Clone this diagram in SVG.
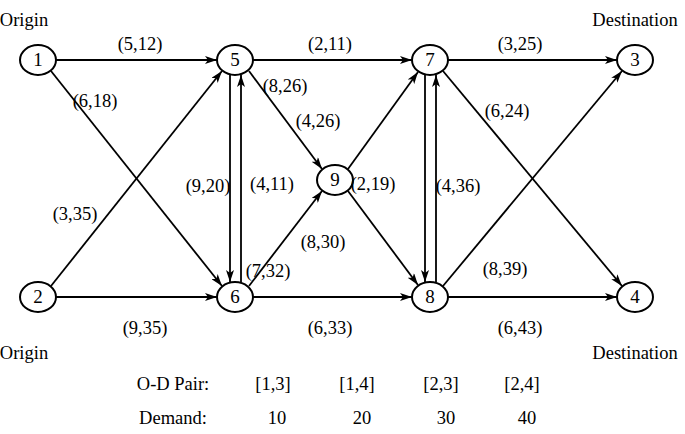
<svg xmlns="http://www.w3.org/2000/svg" width="685" height="434" viewBox="0 0 685 434">
<style>
text{font-family:"Liberation Serif","Times New Roman",serif;font-size:18.5px;fill:#000}
.n ellipse{fill:#fff;stroke:#000;stroke-width:2}
.n text{text-anchor:middle;font-size:19px}
.c line{stroke:#000;stroke-width:1.8;marker-end:url(#a)}
.m{text-anchor:middle}
</style>
<defs><marker id="a" viewBox="0 0 12 8" refX="12" refY="4" markerWidth="12" markerHeight="8" markerUnits="userSpaceOnUse" orient="auto"><path d="M0,0L12,4L0,8L3,4z" fill="#000"/></marker></defs>
<rect width="685" height="434" fill="#fff"/>
<g class="c">
<line x1="56" y1="60" x2="217" y2="60"/>
<line x1="51" y1="71" x2="222" y2="286"/>
<line x1="51" y1="286" x2="222" y2="71"/>
<line x1="56" y1="297" x2="217" y2="297"/>
<line x1="253" y1="60" x2="412" y2="60"/>
<line x1="249" y1="71" x2="322" y2="169"/>
<line x1="230" y1="75" x2="230" y2="282"/>
<line x1="241" y1="282" x2="241" y2="75"/>
<line x1="249" y1="286" x2="322" y2="191"/>
<line x1="253" y1="297" x2="412" y2="297"/>
<line x1="348" y1="169" x2="418" y2="72"/>
<line x1="348" y1="191" x2="418" y2="285"/>
<line x1="448" y1="60" x2="617" y2="60"/>
<line x1="443" y1="71" x2="622" y2="286"/>
<line x1="443" y1="286" x2="622" y2="71"/>
<line x1="448" y1="297" x2="617" y2="297"/>
<line x1="425" y1="75" x2="425" y2="282"/>
<line x1="436" y1="282" x2="436" y2="75"/>
</g>
<g id="n1" class="n"><ellipse cx="38" cy="60" rx="18" ry="15"/><text x="38" y="66">1</text></g>
<g id="n5" class="n"><ellipse cx="235" cy="60" rx="18" ry="15"/><text x="235" y="66">5</text></g>
<g id="n7" class="n"><ellipse cx="430" cy="60" rx="18" ry="15"/><text x="430" y="66">7</text></g>
<g id="n3" class="n"><ellipse cx="635" cy="60" rx="18" ry="15"/><text x="635" y="66">3</text></g>
<g id="n2" class="n"><ellipse cx="38" cy="297" rx="18" ry="15"/><text x="38" y="303">2</text></g>
<g id="n6" class="n"><ellipse cx="235" cy="297" rx="18" ry="15"/><text x="235" y="303">6</text></g>
<g id="n8" class="n"><ellipse cx="430" cy="297" rx="18" ry="15"/><text x="430" y="303">8</text></g>
<g id="n4" class="n"><ellipse cx="635" cy="297" rx="18" ry="15"/><text x="635" y="303">4</text></g>
<g id="n9" class="n"><ellipse cx="335" cy="180" rx="18" ry="15"/><text x="335" y="186">9</text></g>
<g class="m">
<text x="140" y="50">(5,12)</text><text x="95" y="107">(6,18)</text><text x="75" y="220">(3,35)</text><text x="145" y="334">(9,35)</text>
<text x="330" y="50">(2,11)</text><text x="285" y="92">(8,26)</text><text x="318" y="127">(4,26)</text>
<text x="208" y="192">(9,20)</text><text x="272" y="190">(4,11)</text><text x="373" y="190">(2,19)</text><text x="458" y="192">(4,36)</text>
<text x="268" y="277">(7,32)</text><text x="323" y="248">(8,30)</text><text x="330" y="334">(6,33)</text>
<text x="520" y="50">(3,25)</text><text x="507" y="117">(6,24)</text><text x="505" y="275">(8,39)</text><text x="520" y="334">(6,43)</text>
<text x="24" y="26">Origin</text><text x="635" y="26">Destination</text><text x="24" y="359">Origin</text><text x="635" y="359">Destination</text>
<text x="173" y="390">O-D Pair:</text><text x="273" y="390">[1,3]</text><text x="357" y="390">[1,4]</text><text x="441" y="390">[2,3]</text><text x="522" y="390">[2,4]</text>
<text x="173" y="424">Demand:</text><text x="277" y="424">10</text><text x="362" y="424">20</text><text x="446" y="424">30</text><text x="527" y="424">40</text>
</g>
</svg>
